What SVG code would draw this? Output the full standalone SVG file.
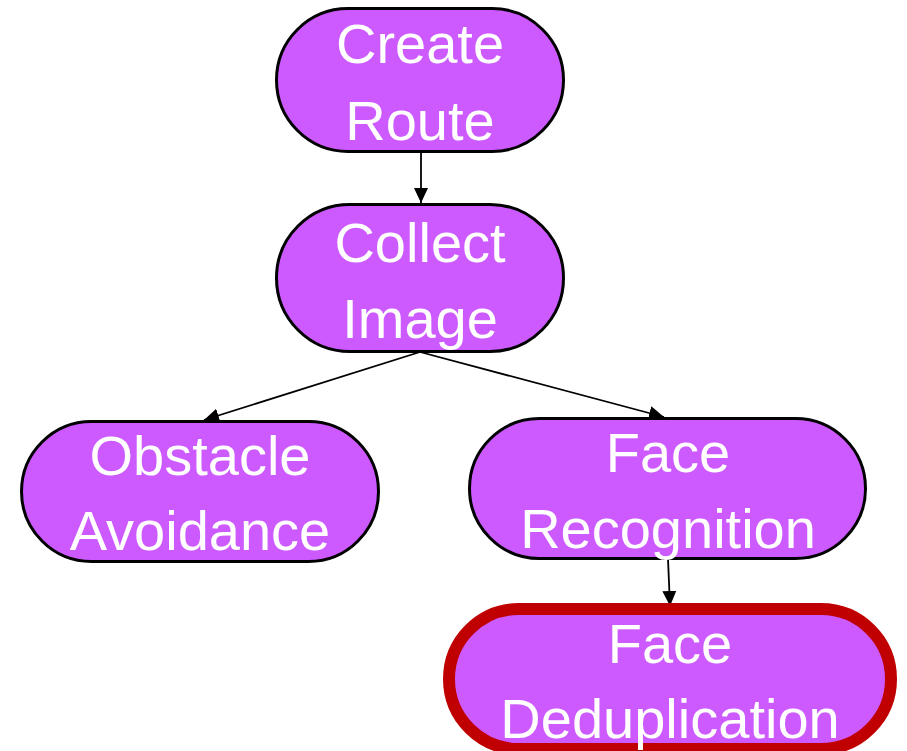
<svg xmlns="http://www.w3.org/2000/svg" width="907" height="751" viewBox="0 0 907 751">
  <style>
    .node { fill: #CC5AFF; stroke: #000000; stroke-width: 3; }
    .hl { stroke: #C00000; stroke-width: 12; }
    .lbl { fill: #FFFFFF; font-family: "Liberation Sans", Arial, sans-serif; font-size: 56px; text-anchor: middle; }
    .edge { stroke: #000000; stroke-width: 1.8; fill: none; marker-end: url(#arrow); }
  </style>
  <defs>
    <marker id="arrow" markerUnits="userSpaceOnUse" markerWidth="16" markerHeight="16" viewBox="0 0 16 16" refX="15" refY="8" orient="auto">
      <path d="M0,1 L15,8 L0,15 Z" fill="#000000"/>
    </marker>
  </defs>
  <rect width="907" height="751" fill="#FFFFFF"/>

  <g id="connectors">
    <line class="edge" x1="421" y1="153" x2="421" y2="203"/>
    <line class="edge" x1="420" y1="352" x2="204" y2="420"/>
    <line class="edge" x1="420" y1="352" x2="664" y2="417"/>
    <line class="edge" x1="668" y1="559" x2="670" y2="606"/>
  </g>

  <g id="create-route">
    <rect class="node" x="276.5" y="8.5" width="287" height="143" rx="71.5"/>
    <text class="lbl" x="420" y="63">Create</text>
    <text class="lbl" x="420" y="140">Route</text>
  </g>

  <g id="collect-image">
    <rect class="node" x="276.5" y="204.5" width="287" height="147" rx="73.5"/>
    <text class="lbl" x="420" y="262">Collect</text>
    <text class="lbl" x="420" y="338">Image</text>
  </g>

  <g id="obstacle-avoidance">
    <rect class="node" x="21.5" y="421.5" width="357" height="140" rx="70"/>
    <text class="lbl" x="200" y="475">Obstacle</text>
    <text class="lbl" x="200" y="550">Avoidance</text>
  </g>

  <g id="face-recognition">
    <rect class="node" x="469.5" y="418.5" width="396" height="140" rx="70"/>
    <text class="lbl" x="668" y="472">Face</text>
    <text class="lbl" x="668" y="548">Recognition</text>
  </g>

  <g id="face-deduplication">
    <rect class="node hl" x="449" y="609" width="442" height="140" rx="70"/>
    <text class="lbl" x="670" y="663">Face</text>
    <text class="lbl" x="670" y="738">Deduplication</text>
  </g>
</svg>
